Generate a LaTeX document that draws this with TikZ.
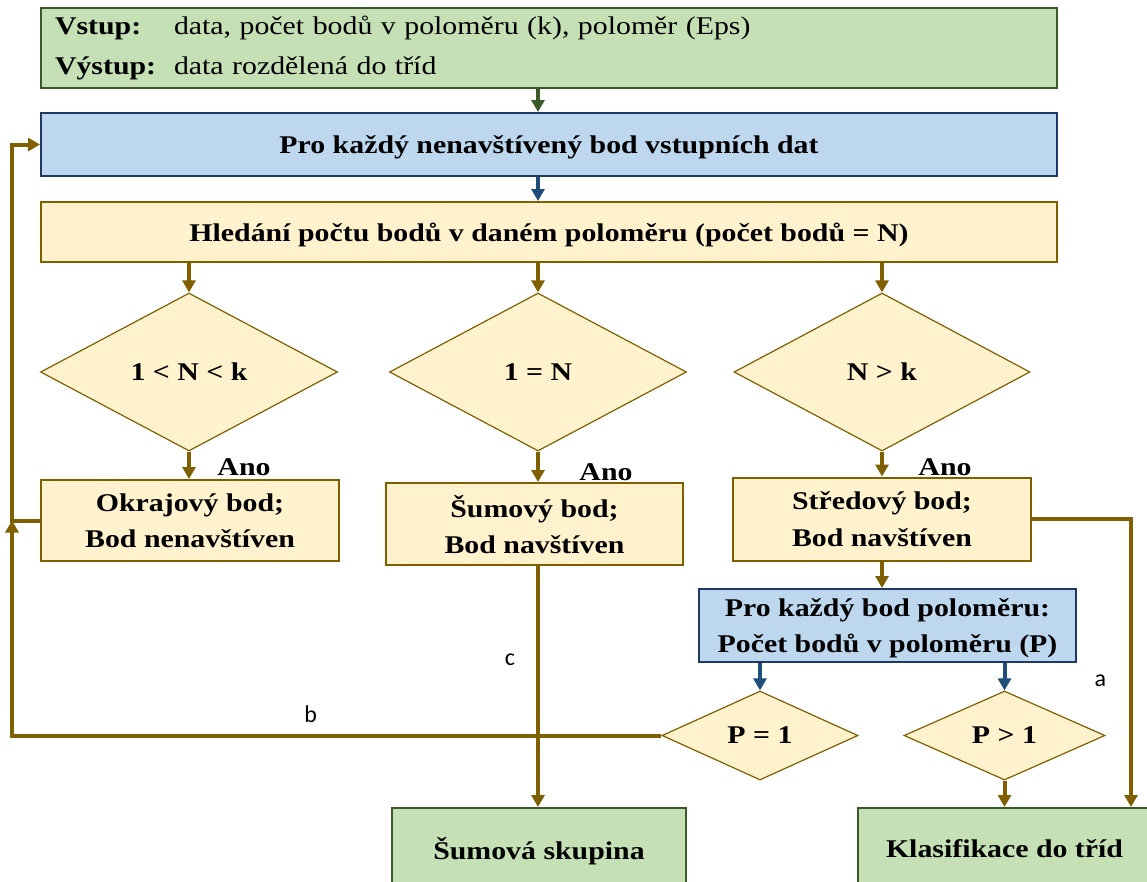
\documentclass[tikz,border=0pt]{standalone}
\usepackage{fontspec}
\setmainfont{Liberation Serif}[FakeStretch=1.17]
\newfontfamily\lblfont{Carlito}
\usetikzlibrary{shapes.geometric,arrows.meta,positioning}

\definecolor{grfill}{HTML}{C5E0B4}
\definecolor{grline}{HTML}{3A5A2A}
\definecolor{blfill}{HTML}{BDD7EE}
\definecolor{blline}{HTML}{203864}
\definecolor{blarrow}{HTML}{1F4E79}
\definecolor{yefill}{HTML}{FFF2CC}
\definecolor{brline}{HTML}{7F6000}

\begin{document}
\begin{tikzpicture}[x=1pt, y=-1pt, font=\fontsize{25.5}{36}\selectfont\bfseries, >={Triangle[width=13pt,length=12pt]}]
            \tikzstyle{box} = [rectangle, draw, line width=2pt, inner sep=0pt, text depth=0pt, align=center]
            \tikzstyle{inbox} = [box, draw=grline, fill=grfill]
            \tikzstyle{loopbox} = [box, draw=blline, fill=blfill]
            \tikzstyle{stepbox} = [box, draw=brline, fill=yefill]
            \tikzstyle{decision} = [diamond, draw=brline, fill=yefill, line width=1.2pt, inner sep=0pt, text depth=0pt]
            \tikzstyle{flow} = [line width=4pt, ->, brline]
            \tikzstyle{bflow} = [line width=4pt, ->, blarrow]
            \tikzstyle{lbl} = [font=\fontsize{24}{28}\selectfont\lblfont\mdseries, text=black, inner sep=0pt]

            \useasboundingbox (0,0) rectangle (1147,881);
            \clip (0,0) rectangle (1147,881);

            % Input and loop
            \node [inbox, text depth=, minimum width=1016, minimum height=80, text width=988, inner xsep=14pt, align=left,
                   font=\fontsize{25.5}{40}\selectfont] (inout) at (549,48)
                  {\makebox[119pt][l]{\bfseries Vstup:}data, počet bodů v poloměru (k), poloměr (Eps)\\
                   \makebox[119pt][l]{\bfseries Výstup:}data rozdělená do tříd};
            \node [loopbox, minimum width=1016, minimum height=63] (loop) at (549,144.5) {Pro každý nenavštívený bod vstupních dat};
            \node [stepbox, minimum width=1016, minimum height=60] (search) at (549,232) {Hledání počtu bodů v daném poloměru (počet bodů = N)};

            % Decisions on N
            \node [decision, minimum width=297, minimum height=158] (dleft) at (189,372) {1 < N < k};
            \node [decision, minimum width=297, minimum height=158] (dmid) at (538,372) {1 = N};
            \node [decision, minimum width=296, minimum height=158] (dright) at (882,372) {N > k};

            % Point types
            \node [stepbox, minimum width=298, minimum height=81] (okraj) at (190,520.5) {Okrajový bod;\\Bod nenavštíven};
            \node [stepbox, minimum width=297, minimum height=82] (sumbod) at (534.5,524) {Šumový bod;\\Bod navštíven};
            \node [stepbox, minimum width=298, minimum height=83] (stred) at (882,519) {Středový bod;\\Bod navštíven};
            \node (ano1) at (244,467) {Ano};
            \node (ano2) at (606,472) {Ano};
            \node (ano3) at (945,467) {Ano};

            % Neighbours of a core point
            \node [loopbox, minimum width=377, minimum height=73] (pbox) at (887.5,625.5) {Pro každý bod poloměru:\\Počet bodů v poloměru (P)};
            \node [decision, minimum width=196, minimum height=89] (dp1) at (760,735.5) {P = 1};
            \node [decision, minimum width=201, minimum height=89] (dpg) at (1004.5,735.5) {P > 1};

            % Results
            \node [inbox, minimum width=294, minimum height=80] (sumsk) at (539,848) {Šumová skupina};
            \node [inbox, minimum width=293, minimum height=80] (klas) at (1004.5,848) {Klasifikace do tříd};

            \coordinate (back) at (12,520.5);
            \coordinate (kin) at ([xshift=-21pt]klas.north east);

            % Arrows
            \draw [line width=4pt, ->, grline] (dmid.north |- inout.south) -- (dmid.north |- loop.north);
            \draw [bflow] (dmid.north |- loop.south) -- (dmid.north |- search.north);

            \draw [flow] (dleft.north |- search.south) -- (dleft.north);
            \draw [flow] (dmid.north |- search.south) -- (dmid.north);
            \draw [flow] (dright.north |- search.south) -- (dright.north);

            \draw [flow] (dleft.south) -- (dleft.south |- okraj.north);
            \draw [flow] (dmid.south) -- (dmid.south |- sumbod.north);
            \draw [flow] (dright.south) -- (dright.south |- stred.north);
            \draw [flow] (stred.south) -- (stred.south |- pbox.north);

            \draw [bflow] (dp1.north |- pbox.south) -- (dp1.north);
            \draw [bflow] (dpg.north |- pbox.south) -- (dpg.north);

            \draw [flow] (okraj.west) -- (back) |- (loop.west);
            \draw [flow] (dp1.west) -| (back) node[lbl, pos=0.27, above=11pt] {b};
            \draw [flow] (dmid.south |- sumbod.south) -- (dmid.south |- sumsk.north) node[lbl, pos=0.39, left=21pt] {c};
            \draw [flow] (stred.east) -| (kin) node[lbl, pos=0.78, left=23pt] {a};
            \draw [flow] (dpg.south) -- (dpg.south |- klas.north);
        \end{tikzpicture}
\end{document}
